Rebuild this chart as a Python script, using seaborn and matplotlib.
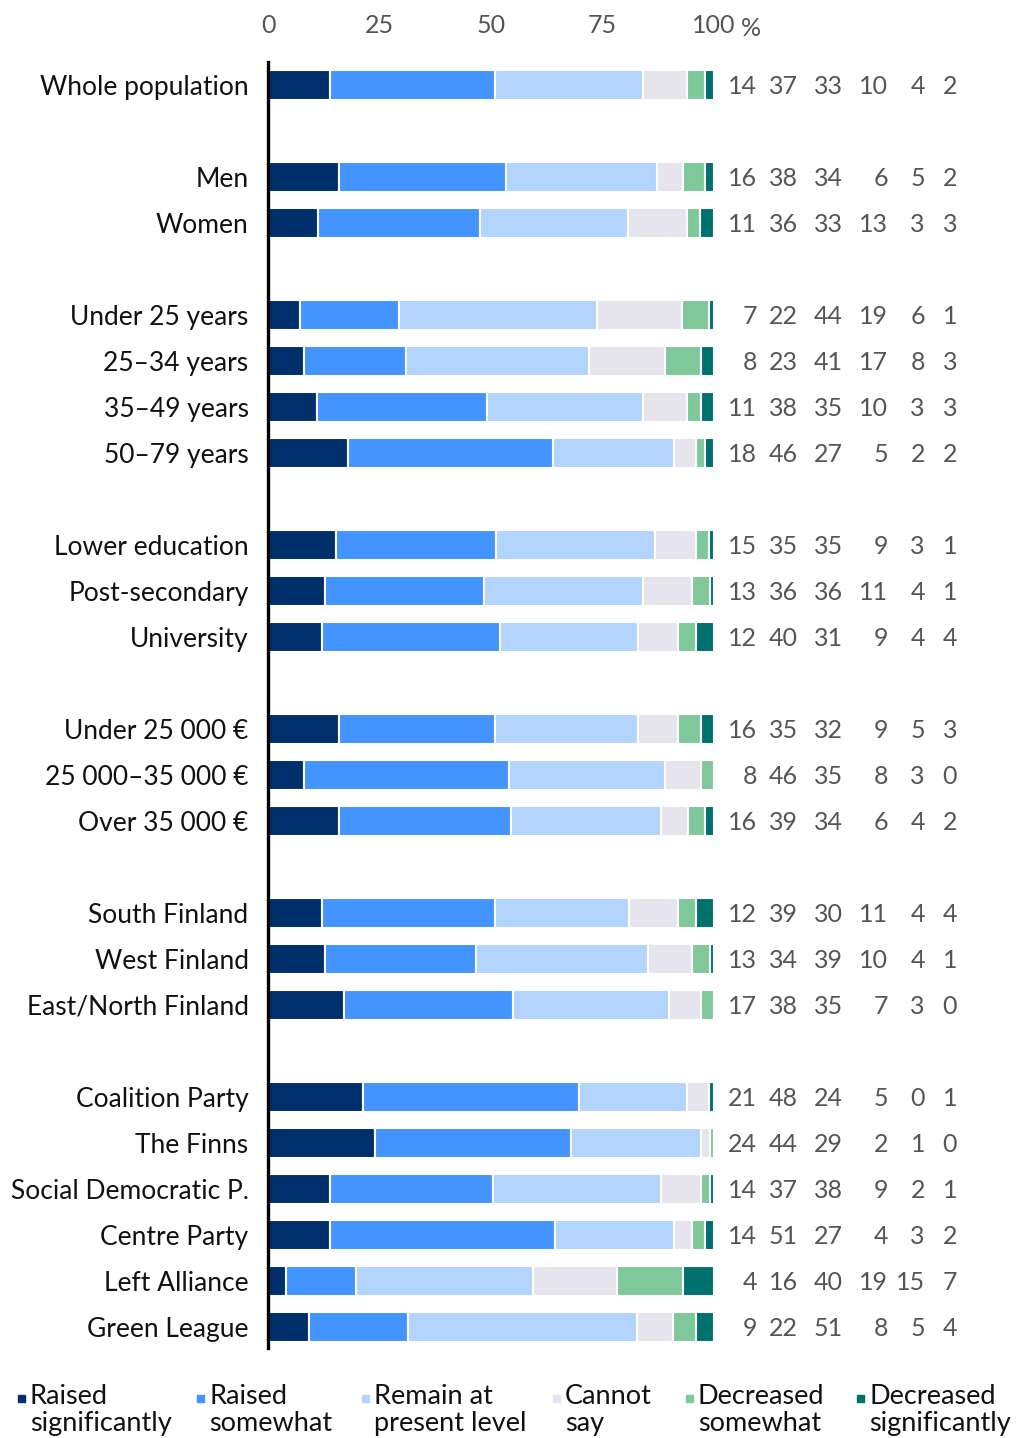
import numpy as np
import pandas as pd
import matplotlib.pyplot as plt
from matplotlib.patches import Rectangle
import seaborn as sns

groups = [
    ["Whole population"],
    ["Men", "Women"],
    ["Under 25 years", "25–34 years", "35–49 years", "50–79 years"],
    ["Lower education", "Post-secondary", "University"],
    ["Under 25 000 €", "25 000–35 000 €", "Over 35 000 €"],
    ["South Finland", "West Finland", "East/North Finland"],
    ["Coalition Party", "The Finns", "Social Democratic P.", "Centre Party", "Left Alliance", "Green League"],
]
series = ["Raised\nsignificantly", "Raised\nsomewhat", "Remain at\npresent level",
          "Cannot\nsay", "Decreased\nsomewhat", "Decreased\nsignificantly"]
raised_sig = [14, 16, 11, 7, 8, 11, 18, 15, 13, 12, 16, 8, 16, 12, 13, 17, 21, 24, 14, 14, 4, 9]
raised_some = [37, 38, 36, 22, 23, 38, 46, 35, 36, 40, 35, 46, 39, 39, 34, 38, 48, 44, 37, 51, 16, 22]
remain = [33, 34, 33, 44, 41, 35, 27, 35, 36, 31, 32, 35, 34, 30, 39, 35, 24, 29, 38, 27, 40, 51]
cannot = [10, 6, 13, 19, 17, 10, 5, 9, 11, 9, 9, 8, 6, 11, 10, 7, 5, 2, 9, 4, 19, 8]
decr_some = [4, 5, 3, 6, 8, 3, 2, 3, 4, 4, 5, 3, 4, 4, 4, 3, 0, 1, 2, 3, 15, 5]
decr_sig = [2, 2, 3, 1, 3, 3, 2, 1, 1, 4, 3, 0, 2, 4, 1, 0, 1, 0, 1, 2, 7, 4]
colors = ["#00306b", "#4394ff", "#b3d4fd", "#e6e4ec", "#7ec89a", "#00716e"]

sns.set_theme(style="white")
plt.rcParams["font.family"] = ["Lato", "DejaVu Sans"]

labels = [l for g in groups for l in g]
pos = []
p = 0
for g in groups:
    for _ in g:
        pos.append(p)
        p += 1
    p += 1
pos = np.array(pos)

vals = pd.DataFrame(np.array([raised_sig, raised_some, remain, cannot, decr_some, decr_sig]).T,
                    index=labels, columns=series)
shares = vals.div(vals.sum(axis=1), axis=0) * 100

fig = plt.figure(figsize=(10.18, 14.38), dpi=100)
ax = fig.add_axes([268 / 1018, 1 - 1350 / 1438, 446 / 1018, 1288 / 1438])

left = np.zeros(len(labels))
for col, c in zip(series, colors):
    ax.barh(pos, shares[col].values, left=left, height=0.64, color=c,
            edgecolor="white", linewidth=1.5)
    left += shares[col].values

ax.set_xlim(0, 100)
ax.set_ylim(27.5, -0.5)
ax.set_yticks(pos)
ax.set_yticklabels(labels, fontsize=19, color="#111111")
ax.tick_params(axis="y", length=0, pad=14)
ax.xaxis.tick_top()
ax.set_xticks([0, 25, 50, 75, 100])
ax.set_xticklabels(["0", "25", "50", "75", "100"], fontsize=18, color="#555555")
ax.tick_params(axis="x", length=0, pad=18)
fig.text(741 / 1018, 1 - 28 / 1438, "%", fontsize=18, color="#555555", ha="left", va="center")
for s in ["top", "right", "bottom"]:
    ax.spines[s].set_visible(False)
ax.spines["left"].set_color("black")
ax.spines["left"].set_linewidth(2.4)
ax.spines["left"].set_bounds(-0.5, 27.45)

col_x = [109.6, 118.8, 128.9, 139.0, 147.3, 154.5]
for i, lab in enumerate(labels):
    for j, col in enumerate(series):
        ax.text(col_x[j], pos[i], str(vals.loc[lab, col]), ha="right", va="center_baseline",
                fontsize=18, color="#555555", clip_on=False)

leg_x = [18, 197, 362, 553, 686, 857]
for x, c, s in zip(leg_x, colors, series):
    fig.patches.append(Rectangle((x / 1018, 1 - 1402 / 1438), 7 / 1018, 7 / 1438,
                                 transform=fig.transFigure, color=c, figure=fig))
    fig.text((x + 12) / 1018, 1 - 1384 / 1438, s, ha="left", va="top", fontsize=19.5,
             color="#111111", linespacing=1.08)

fig.savefig("out.png", dpi=100)
